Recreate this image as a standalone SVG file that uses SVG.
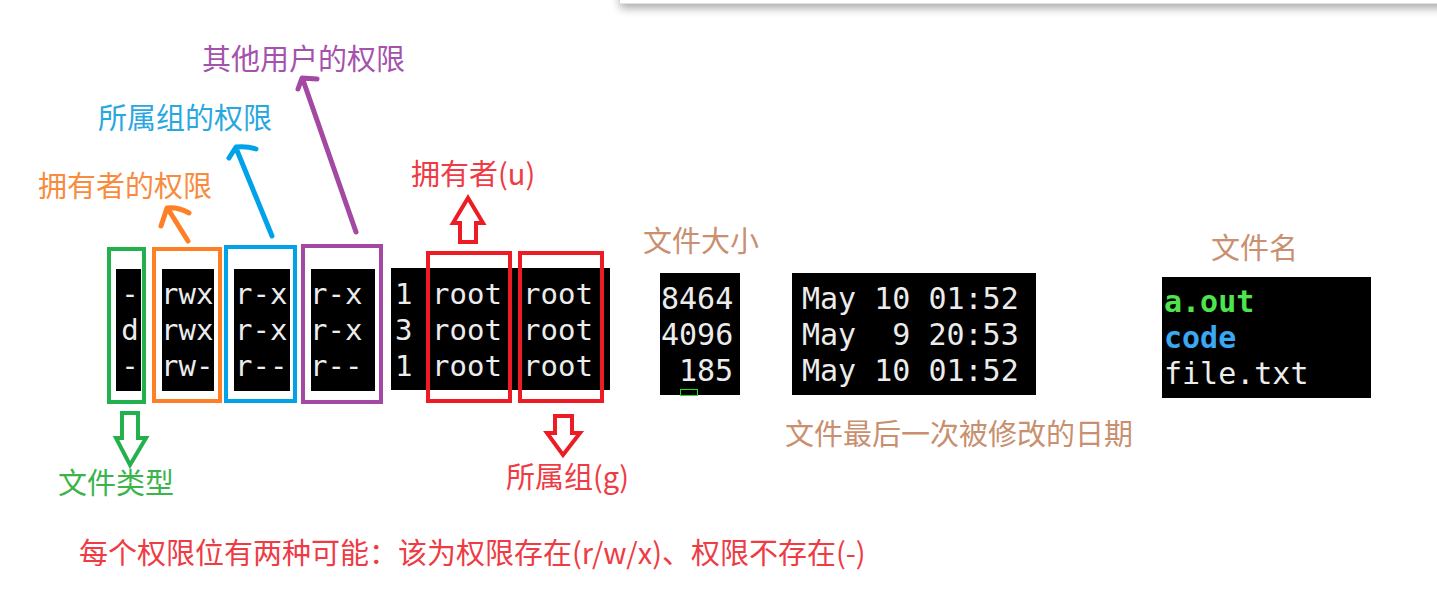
<svg xmlns="http://www.w3.org/2000/svg" width="1437" height="589" viewBox="0 0 1437 589">
<defs>
<filter id="sh" x="-5%" y="-100%" width="110%" height="400%">
<feGaussianBlur in="SourceAlpha" stdDeviation="5"/>
<feOffset dy="4"/>
<feComponentTransfer><feFuncA type="linear" slope="0.35"/></feComponentTransfer>
<feMerge><feMergeNode/><feMergeNode in="SourceGraphic"/></feMerge>
</filter>
</defs>
<style>
.term{fill:#000}
.mono{font-family:"DejaVu Sans Mono","Liberation Mono",monospace;font-size:29px;fill:#ececec;white-space:pre}
.big{font-size:30px}
.lbl{font-family:"Microsoft YaHei","Noto Sans CJK SC",sans-serif;font-size:29px}
.box{fill:none;stroke-width:4}
.ln{fill:none;stroke-width:5;stroke-linecap:round;stroke-linejoin:round}
.hol{fill:#fff;stroke-width:4;stroke-linejoin:miter}
</style>
<rect width="1437" height="589" fill="#fff"/>
<rect x="620" y="-20" width="840" height="24" fill="#fff" filter="url(#sh)"/>
<line x1="620" y1="3.5" x2="1437" y2="3.5" stroke="#e2e2e2" stroke-width="1"/>

<g id="type">
<rect class="term" x="116" y="269" width="25" height="122"/>
<text class="mono" x="130" y="304" text-anchor="middle">-</text>
<text class="mono" x="130" y="340" text-anchor="middle">d</text>
<text class="mono" x="130" y="376" text-anchor="middle">-</text>
<rect class="box" x="109" y="249" width="35" height="153" stroke="#22b14c"/>
</g>
<g id="owner-perm">
<rect class="term" x="162" y="269" width="52" height="122"/>
<text class="mono" x="161" y="304">rwx</text>
<text class="mono" x="161" y="340">rwx</text>
<text class="mono" x="161" y="376">rw-</text>
<rect class="box" x="154" y="249" width="66" height="152" stroke="#ff7f27"/>
</g>
<g id="group-perm">
<rect class="term" x="234" y="269" width="56" height="122"/>
<text class="mono" x="235" y="304">r-x</text>
<text class="mono" x="235" y="340">r-x</text>
<text class="mono" x="235" y="376">r--</text>
<rect class="box" x="226" y="247" width="69" height="154" stroke="#00a2e8"/>
</g>
<g id="other-perm">
<rect class="term" x="311" y="269" width="64" height="122"/>
<text class="mono" x="310" y="304">r-x</text>
<text class="mono" x="310" y="340">r-x</text>
<text class="mono" x="310" y="376">r--</text>
<rect class="box" x="303" y="246" width="78" height="156" stroke="#a349a4"/>
</g>
<g id="links-owner-group">
<rect class="term" x="391" y="268" width="219" height="122"/>
<text class="mono" x="395" y="304">1</text>
<text class="mono" x="395" y="340">3</text>
<text class="mono" x="395" y="376">1</text>
<text class="mono" x="432" y="304">root</text>
<text class="mono" x="432" y="340">root</text>
<text class="mono" x="432" y="376">root</text>
<text class="mono" x="523" y="304">root</text>
<text class="mono" x="523" y="340">root</text>
<text class="mono" x="523" y="376">root</text>
<rect class="box" x="428" y="253" width="82" height="148" stroke="#ed1c24"/>
<rect class="box" x="520" y="253" width="82" height="148" stroke="#ed1c24"/>
</g>
<g id="size">
<rect class="term" x="660" y="273" width="80" height="122"/>
<text class="mono big" x="661" y="309">8464</text>
<text class="mono big" x="661" y="345">4096</text>
<text class="mono big" x="679" y="381">185</text>
<rect x="680.5" y="389.5" width="17" height="6" fill="none" stroke="#22e022" stroke-width="1"/>
</g>
<g id="date">
<rect class="term" x="792" y="273" width="244" height="122"/>
<text class="mono big" x="802" y="309" xml:space="preserve">May 10 01:52</text>
<text class="mono big" x="802" y="345" xml:space="preserve">May  9 20:53</text>
<text class="mono big" x="802" y="381" xml:space="preserve">May 10 01:52</text>
</g>
<g id="name">
<rect class="term" x="1162" y="277" width="209" height="121"/>
<text class="mono big" x="1164" y="312" style="fill:#4ee44e;font-weight:bold">a.out</text>
<text class="mono big" x="1164" y="348" style="fill:#3aa8f2;font-weight:bold">code</text>
<text class="mono big" x="1164" y="384">file.txt</text>
</g>

<g id="labels">
<text class="lbl" x="202" y="70" fill="#a552ad">其他用户的权限</text>
<text class="lbl" x="98" y="129" fill="#29a8e0">所属组的权限</text>
<text class="lbl" x="38" y="197" fill="#f98b3f">拥有者的权限</text>
<text class="lbl" x="411" y="185" fill="#ef3b44">拥有者(u)</text>
<text class="lbl" x="643" y="252" fill="#c98f6f">文件大小</text>
<text class="lbl" x="1211" y="259" fill="#c98f6f">文件名</text>
<text class="lbl" x="785" y="445" fill="#c98f6f">文件最后一次被修改的日期</text>
<text class="lbl" x="58" y="494" fill="#3cb44c">文件类型</text>
<text class="lbl" x="506" y="488" fill="#ef3b44">所属组(g)</text>
<text class="lbl" x="79" y="564" fill="#ef3b44">每个权限位有两种可能：该为权限存在(r/w/x)、权限不存在(-)</text>
</g>

<g id="connectors">
<path class="ln" stroke="#ff7f27" d="M188,241 L168,209 M161,226 L167,208 Q178,207 189,213"/>
<path class="ln" stroke="#00a2e8" d="M272,236 L236,148 M229,158 L236,147 Q247,146 256,149"/>
<path class="ln" stroke="#a349a4" d="M356,232 L303,80 M298,89 L302,78 L317,79"/>
<polygon class="hol" stroke="#ed1c24" stroke-width="3.5" points="460,242 460,223 453,223 468,198 483,223 476,223 476,242"/>
<polygon class="hol" stroke="#22b14c" points="122,413 138,413 138,438 146,438 130,465 116,438 122,438"/>
<polygon class="hol" stroke="#ed1c24" points="555,416 572,416 572,433 580,433 563,455 547,433 555,433"/>
</g>
</svg>
